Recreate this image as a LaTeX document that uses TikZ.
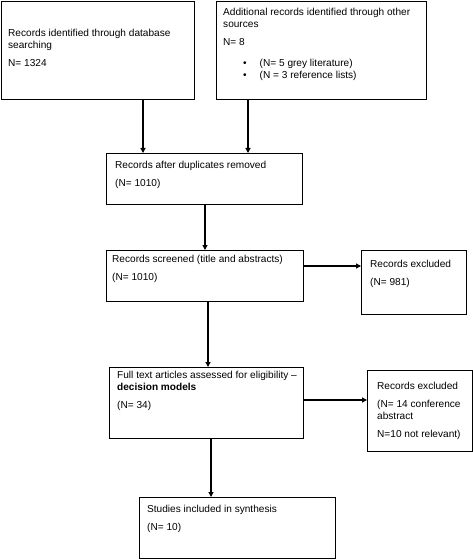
\documentclass[tikz,border=0pt]{standalone}
\usepackage{fontspec}
\setmainfont{Liberation Sans}
\usetikzlibrary{arrows.meta}
\tikzset{
  box/.style={draw=black, line width=1.1bp, rectangle, inner sep=0pt, anchor=north west},
  txt/.style={anchor=north west, inner sep=0pt, align=left, font=\fontsize{10.1bp}{11.6bp}\selectfont},
  conn/.style={draw=black, line width=1.1bp, -{Triangle[length=5bp,width=5bp]}}
}
\begin{document}
\begin{tikzpicture}[x=1bp,y=-1bp]
\useasboundingbox (0,0) rectangle (473,560);
% boxes
\node[box, minimum width=193bp, minimum height=98bp] (b1) at (1,1) {};
\node[box, minimum width=210bp, minimum height=98bp] (b2) at (216,1) {};
\node[box, minimum width=196bp, minimum height=51bp] (b3) at (106,153) {};
\node[box, minimum width=197bp, minimum height=51bp] (b4) at (106,250) {};
\node[box, minimum width=105bp, minimum height=64bp] (b5) at (361,250) {};
\node[box, minimum width=194bp, minimum height=71bp] (b6) at (109,367) {};
\node[box, minimum width=105bp, minimum height=81bp] (b7) at (367,370) {};
\node[box, minimum width=196bp, minimum height=61bp] (b8) at (139,497) {};
% texts
\node[txt] (t1) at (8,29) {Records identified through database\\searching\\[6.8bp]N= 1324};
\node[txt] (t2) at (223,8) {Additional records identified through other\\sources\\[6.8bp]N= 8};
\node[txt] (t2b) at (243,59) {\textbullet\hspace{13bp}(N= 5 grey literature)\\\textbullet\hspace{13bp}(N = 3 reference lists)};
\node[txt] (t3) at (115,161) {Records after duplicates removed\\[6.8bp](N= 1010)};
\node[txt] (t4) at (112,255) {Records screened (title and abstracts)\\[6.8bp](N= 1010)};
\node[txt] (t5) at (370,260) {Records excluded\\[6.8bp](N= 981)};
\node[txt] (t6) at (117,371) {Full text articles assessed for eligibility --\\\textbf{decision models}\\[6.8bp](N= 34)};
\node[txt] (t7) at (377,382) {Records excluded\\[6.8bp](N= 14 conference\\abstract\\[6.8bp]N=10 not relevant)};
\node[txt] (t8) at (147,505) {Studies included in synthesis\\[6.8bp](N= 10)};
% connectors
\coordinate (a1) at (143,99);
\coordinate (a2) at (248,99);
\draw[conn] (a1) -- (a1 |- b3.north);
\draw[conn] (a2) -- (a2 |- b3.north);
\coordinate (a3) at (205,204);
\draw[conn] (a3) -- (a3 |- b4.north);
\coordinate (a4) at (303,266);
\draw[conn] (a4) -- (a4 -| b5.west);
\coordinate (a5) at (208,301);
\draw[conn] (a5) -- (a5 |- b6.north);
\coordinate (a6) at (303,400);
\draw[conn] (a6) -- (a6 -| b7.west);
\coordinate (a7) at (211,438);
\draw[conn] (a7) -- (a7 |- b8.north);
\end{tikzpicture}
\end{document}
